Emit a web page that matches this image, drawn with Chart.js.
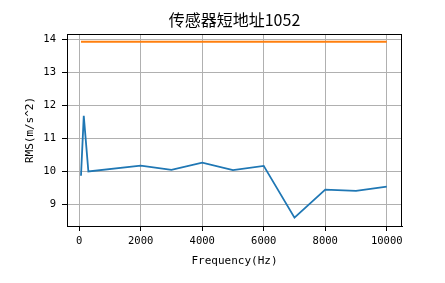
<!DOCTYPE html>
<html>
<head>
<meta charset="utf-8">
<script src="https://cdn.jsdelivr.net/npm/chart.js@4"></script>
<style>
  html, body { margin: 0; padding: 0; background: #fff; }
</style>
</head>
<body>
<canvas id="chart" width="445" height="283"></canvas>
<script>
// Data
const freqs = [60, 150, 300, 2000, 3000, 4000, 5000, 6000, 7000, 8000, 9000, 10000];
const rms = [9.86, 11.68, 9.99, 10.17, 10.04, 10.26, 10.03, 10.16, 8.59, 9.44, 9.40, 9.53];
const limitFreqs = [60, 10000];
const limitRms = [13.93, 13.93];
const xTicks = [0, 2000, 4000, 6000, 8000, 10000];
const yTicks = [9, 10, 11, 12, 13, 14];

const titleText = '传感器短地址1052';
const xLabel = 'Frequency(Hz)';
const yLabel = 'RMS(m/s^2)';

const monoFont = '"DejaVu Sans Mono", "Liberation Mono", monospace';

// frame around the plot area + title and axis labels
const framePlugin = {
    id: 'frame',
    afterDraw(chart) {
        const ctx = chart.ctx;
        const a = chart.chartArea;
        ctx.save();
        ctx.strokeStyle = '#000';
        ctx.lineWidth = 1;
        ctx.strokeRect(Math.round(a.left) + 0.5, Math.round(a.top) + 0.5,
            Math.round(a.right - a.left) - 1, Math.round(a.bottom - a.top));

        ctx.fillStyle = '#000';
        ctx.textAlign = 'center';
        ctx.textBaseline = 'middle';
        ctx.font = '16px "Noto Sans CJK SC"';
        ctx.fillText(titleText, (a.left + a.right) / 2, 20);

        ctx.font = '11px ' + monoFont;
        ctx.fillText(xLabel, (a.left + a.right) / 2, 261);

        ctx.translate(30, (a.top + a.bottom) / 2);
        ctx.rotate(-Math.PI / 2);
        ctx.fillText(yLabel, 0, 0);
        ctx.restore();
    }
};

const tickFont = { family: monoFont, size: 10.5 };

new Chart(document.getElementById('chart'), {
    type: 'scatter',
    data: {
        datasets: [{
            data: freqs.map((f, i) => ({ x: f, y: rms[i] })),
            borderColor: '#1f77b4',
            backgroundColor: '#1f77b4',
            borderWidth: 1.8,
            showLine: true,
            pointRadius: 0,
            tension: 0
        }, {
            data: limitFreqs.map((f, i) => ({ x: f, y: limitRms[i] })),
            borderColor: '#ff7f0e',
            backgroundColor: '#ff7f0e',
            borderWidth: 2,
            showLine: true,
            pointRadius: 0
        }]
    },
    options: {
        responsive: false,
        animation: false,
        devicePixelRatio: 1,
        layout: { padding: { top: 34, right: 43, left: 0, bottom: 0 } },
        plugins: {
            legend: { display: false },
            tooltip: { enabled: false }
        },
        scales: {
            x: {
                type: 'linear',
                min: -395,
                max: 10495,
                afterBuildTicks: s => { s.ticks = xTicks.map(v => ({ value: v })); },
                afterFit: s => { s.height = 57; },
                grid: { color: '#b0b0b0', lineWidth: 1, tickColor: '#000', tickLength: 5 },
                border: { color: '#000', width: 1 },
                ticks: { color: '#000', font: tickFont, padding: 4, maxRotation: 0, autoSkip: false,
                    callback: v => String(v) }
            },
            y: {
                type: 'linear',
                min: 8.335,
                max: 14.165,
                afterBuildTicks: s => { s.ticks = yTicks.map(v => ({ value: v })); },
                afterFit: s => { s.width = 67; },
                grid: { color: '#b0b0b0', lineWidth: 1, tickColor: '#000', tickLength: 5 },
                border: { color: '#000', width: 1 },
                ticks: { color: '#000', font: tickFont, padding: 6, autoSkip: false,
                    callback: v => String(v) }
            }
        }
    },
    plugins: [framePlugin]
});
</script>
</body>
</html>
